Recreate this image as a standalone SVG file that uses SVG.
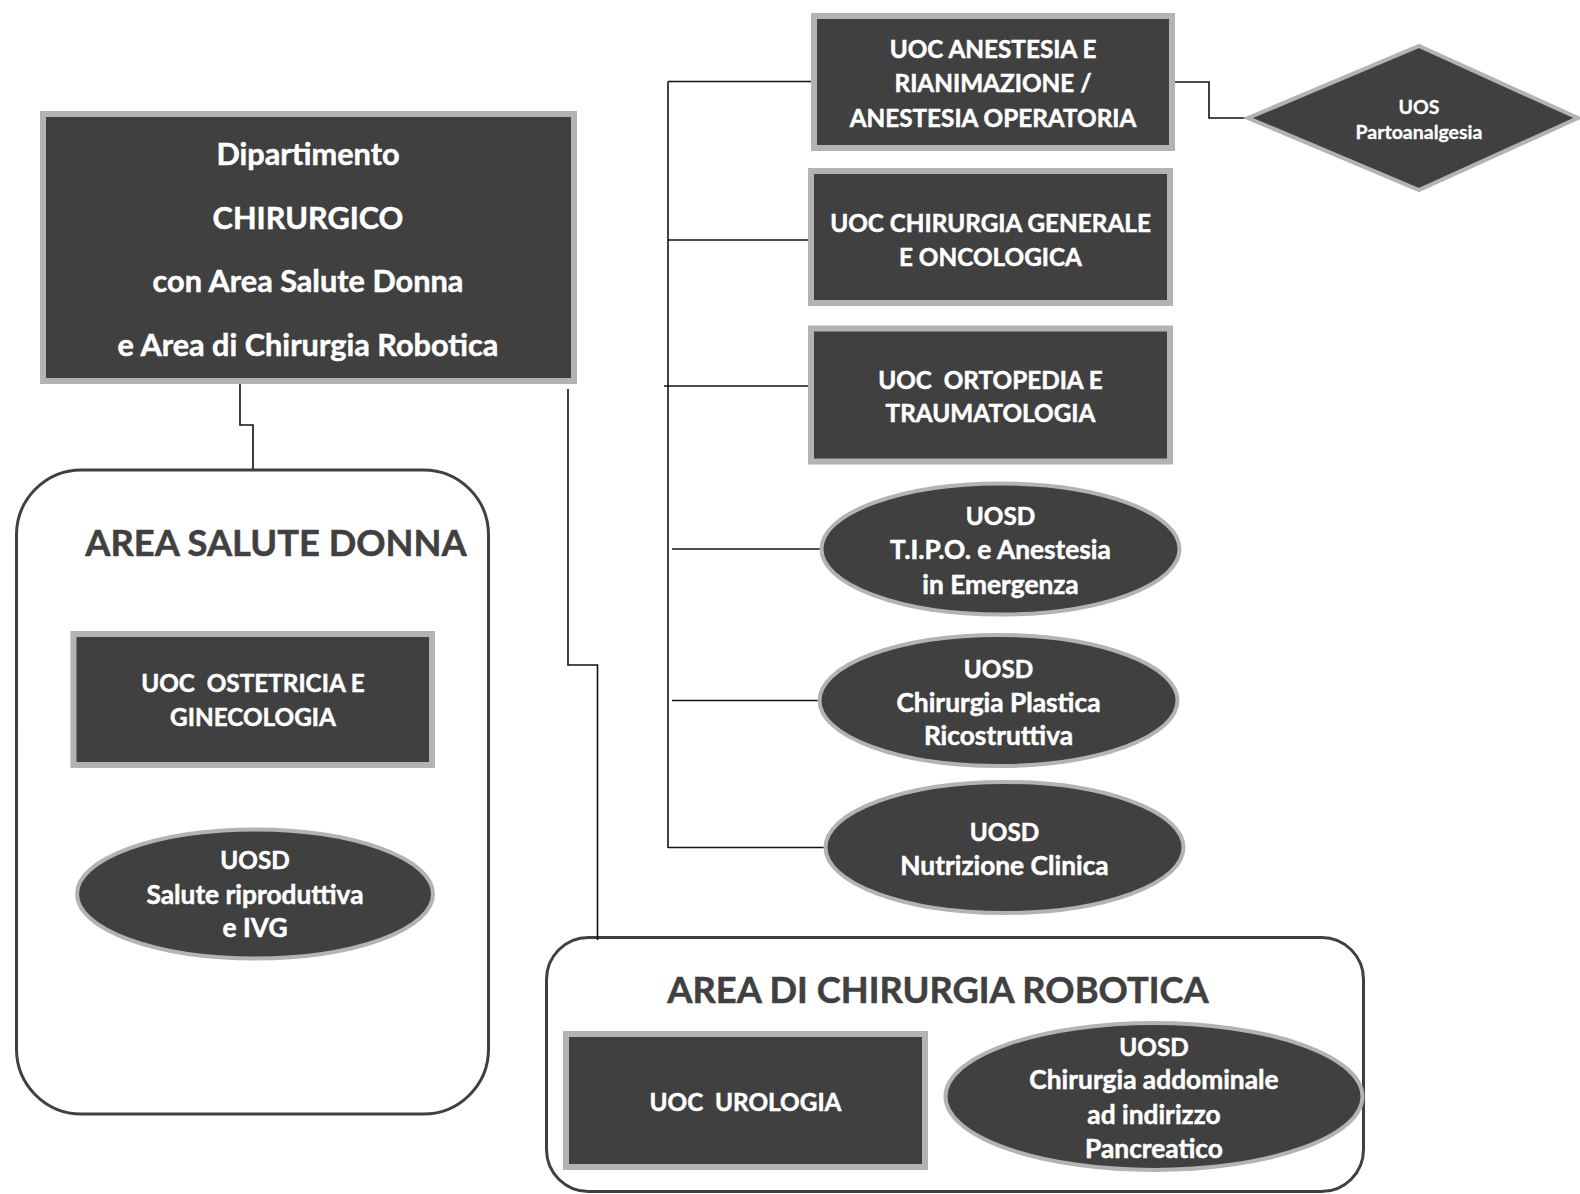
<svg xmlns="http://www.w3.org/2000/svg" width="1580" height="1194" viewBox="0 0 1580 1194">
  <style>
    .box { fill: #404040; stroke: #b3b3b3; stroke-width: 6; }
    .oval { fill: #404040; stroke: #b3b3b3; stroke-width: 4; }
    .area { fill: #ffffff; stroke: #404040; stroke-width: 3; }
    .lbl { font-family: Lato, "Liberation Sans", sans-serif; font-weight: 700; fill: #ffffff; stroke: #ffffff; stroke-width: 0.5; text-anchor: middle; dominant-baseline: central; }
    .dep { font-size: 30.7px; }
    .cap { font-size: 24.3px; }
    .mix { font-size: 26.3px; }
    .small { font-size: 19.5px; stroke-width: 0.3; }
    .title { font-family: Lato, "Liberation Sans", sans-serif; font-weight: 700; fill: #404040; stroke: #404040; stroke-width: 0.5; text-anchor: middle; dominant-baseline: central; font-size: 36.3px; }
    .wire { fill: none; stroke: #111111; stroke-width: 1.6; }
  </style>
  <rect width="1580" height="1194" fill="#ffffff"/>

  <!-- area containers -->
  <g id="area-salute-donna">
    <rect class="area" x="16.5" y="470" width="472" height="644" rx="65" ry="65"/>
    <text class="title" x="276" y="542">AREA SALUTE DONNA</text>
  </g>
  <g id="area-chirurgia-robotica">
    <rect class="area" x="546.5" y="937.5" width="817" height="254" rx="42" ry="42"/>
    <text class="title" x="938" y="989">AREA DI CHIRURGIA ROBOTICA</text>
  </g>

  <!-- connectors -->
  <g id="connectors">
    <polyline class="wire" points="240,384 240,425 253,425 253,469"/>
    <polyline class="wire" points="568,389 568,665 597.5,665 597.5,940"/>
    <line class="wire" x1="668" y1="81.5" x2="668" y2="848"/>
    <line class="wire" x1="668" y1="81.5" x2="812" y2="81.5"/>
    <line class="wire" x1="668" y1="240" x2="810" y2="240"/>
    <line class="wire" x1="664" y1="386" x2="810" y2="386"/>
    <line class="wire" x1="672" y1="549" x2="820" y2="549"/>
    <line class="wire" x1="672" y1="700.5" x2="818" y2="700.5"/>
    <line class="wire" x1="668" y1="847.5" x2="824" y2="847.5"/>
    <polyline class="wire" points="1175,82 1209,82 1209,118 1247,118"/>
  </g>

  <!-- department -->
  <g id="dipartimento">
    <rect class="box" x="43" y="114" width="531" height="267"/>
    <text class="lbl dep" x="308" y="153">Dipartimento</text>
    <text class="lbl dep" x="308" y="217">CHIRURGICO</text>
    <text class="lbl dep" x="308" y="280">con Area Salute Donna</text>
    <text class="lbl dep" x="308" y="344">e Area di Chirurgia Robotica</text>
  </g>

  <!-- units on the right column -->
  <g id="uoc-anestesia">
    <rect class="box" x="814" y="16" width="358" height="132"/>
    <text class="lbl cap" x="993" y="48.5">UOC ANESTESIA E</text>
    <text class="lbl cap" x="993" y="82.5">RIANIMAZIONE /</text>
    <text class="lbl cap" x="993" y="117">ANESTESIA OPERATORIA</text>
  </g>
  <g id="uos-partoanalgesia">
    <polygon class="oval" points="1248,118 1419,46 1578,118 1419,190"/>
    <text class="lbl small" x="1419" y="106">UOS</text>
    <text class="lbl small" x="1419" y="131">Partoanalgesia</text>
  </g>
  <g id="uoc-chirurgia-generale">
    <rect class="box" x="811" y="171" width="359" height="132"/>
    <text class="lbl cap" x="990.5" y="222">UOC CHIRURGIA GENERALE</text>
    <text class="lbl cap" x="990.5" y="256">E ONCOLOGICA</text>
  </g>
  <g id="uoc-ortopedia">
    <rect class="box" x="811" y="328.5" width="359" height="133"/>
    <text class="lbl cap" x="990.5" y="379" xml:space="preserve">UOC  ORTOPEDIA E</text>
    <text class="lbl cap" x="990.5" y="412.5">TRAUMATOLOGIA</text>
  </g>
  <g id="uosd-tipo">
    <ellipse class="oval" cx="1000.5" cy="549" rx="179" ry="65.5"/>
    <text class="lbl cap" x="1000.5" y="515">UOSD</text>
    <text class="lbl mix" x="1000.5" y="549">T.I.P.O. e Anestesia</text>
    <text class="lbl mix" x="1000.5" y="583.5">in Emergenza</text>
  </g>
  <g id="uosd-chirurgia-plastica">
    <ellipse class="oval" cx="998.5" cy="700.5" rx="179" ry="65.5"/>
    <text class="lbl cap" x="998.5" y="668">UOSD</text>
    <text class="lbl mix" x="998.5" y="701.5">Chirurgia Plastica</text>
    <text class="lbl mix" x="998.5" y="734.5">Ricostruttiva</text>
  </g>
  <g id="uosd-nutrizione">
    <ellipse class="oval" cx="1004.5" cy="847.5" rx="179" ry="65.5"/>
    <text class="lbl cap" x="1004.5" y="831.5">UOSD</text>
    <text class="lbl mix" x="1004.5" y="864.5">Nutrizione Clinica</text>
  </g>

  <!-- women's health area units -->
  <g id="uoc-ostetricia">
    <rect class="box" x="73.5" y="634" width="358.5" height="131"/>
    <text class="lbl cap" x="253" y="682" xml:space="preserve">UOC  OSTETRICIA E</text>
    <text class="lbl cap" x="253" y="716.5">GINECOLOGIA</text>
  </g>
  <g id="uosd-salute-riproduttiva">
    <ellipse class="oval" cx="255" cy="894" rx="178" ry="64.5"/>
    <text class="lbl cap" x="255" y="859.5">UOSD</text>
    <text class="lbl mix" x="255" y="894">Salute riproduttiva</text>
    <text class="lbl mix" x="255" y="927">e IVG</text>
  </g>

  <!-- robotic surgery area units -->
  <g id="uoc-urologia">
    <rect class="box" x="566" y="1034" width="359" height="133"/>
    <text class="lbl cap" x="745.5" y="1101.5" xml:space="preserve">UOC  UROLOGIA</text>
  </g>
  <g id="uosd-chirurgia-addominale">
    <ellipse class="oval" cx="1154" cy="1096.5" rx="208.5" ry="73.5"/>
    <text class="lbl cap" x="1154" y="1046">UOSD</text>
    <text class="lbl mix" x="1154" y="1079">Chirurgia addominale</text>
    <text class="lbl mix" x="1154" y="1113.5">ad indirizzo</text>
    <text class="lbl mix" x="1154" y="1148">Pancreatico</text>
  </g>
</svg>
